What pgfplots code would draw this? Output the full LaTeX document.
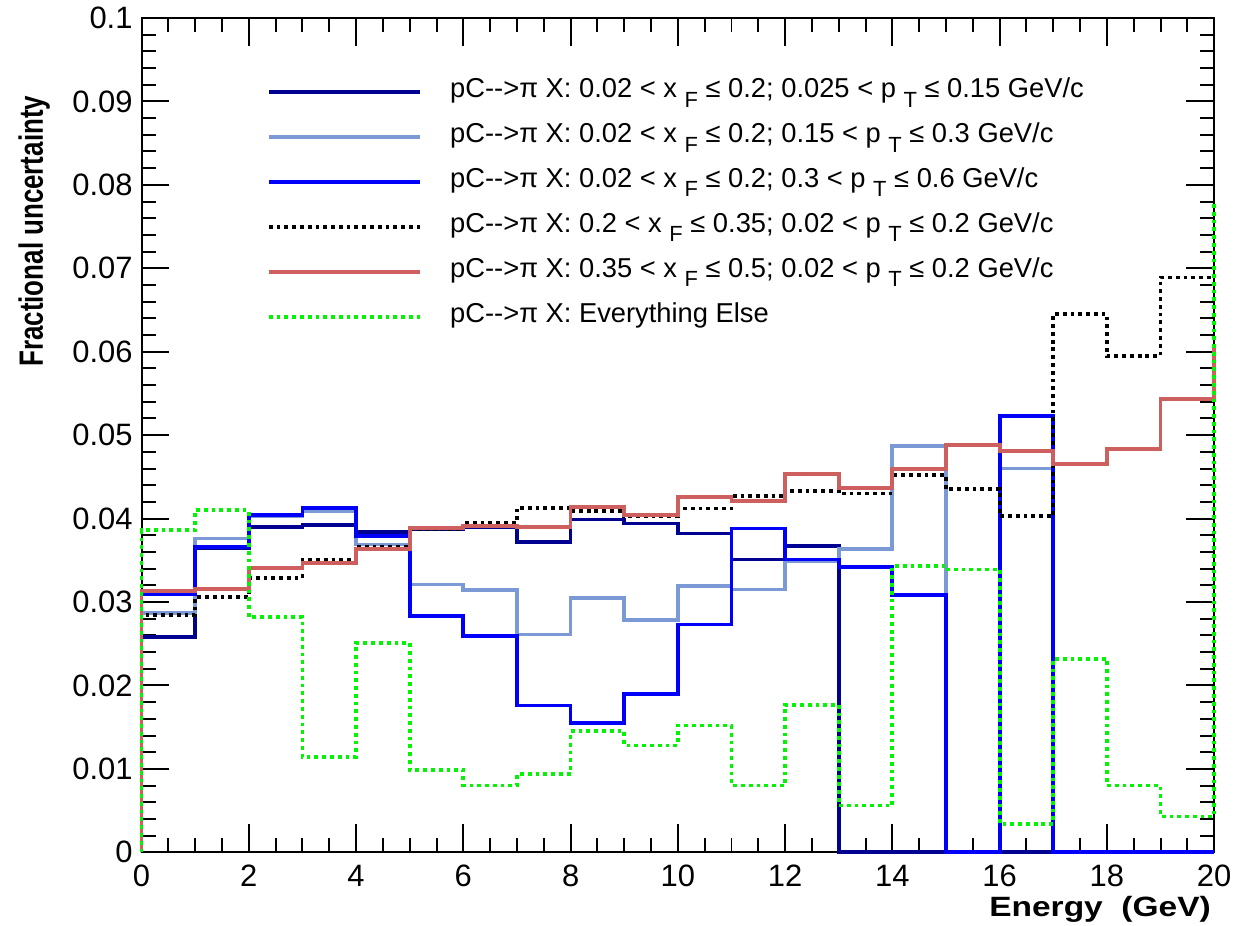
\documentclass[border=0pt]{standalone}
\usepackage{pgfplots}
\pgfplotsset{compat=1.18}
\usepackage{pgfplotstable}
\usetikzlibrary{calc}
\usepackage{fontspec}
\setmainfont{Liberation Sans}
\newfontfamily\widefont[FakeStretch=1.2]{Liberation Sans}
\definecolor{cnavy}{RGB}{0,0,145}
\definecolor{clblue}{RGB}{122,153,213}
\definecolor{cblue}{RGB}{0,0,250}
\definecolor{cred}{RGB}{205,95,95}
\definecolor{cgreen}{RGB}{0,245,0}
\newcommand\sub[1]{\raisebox{-0.65ex}{\fontsize{11pt}{11pt}\selectfont #1}}
\newcommand\pcx{pC-{}->π X:}

% bin left edge, content; first row is the outline start, last row the outline end
\pgfplotstableread{
x     navy    lblue   blue    black   red     green
0     0       0       0       0       0       0
0     0.0258  0.0287  0.0309  0.0284  0.0313  0.0386
1     0.0365  0.0376  0.0366  0.0306  0.0316  0.0410
2     0.0390  0.0403  0.0404  0.0329  0.0341  0.0282
3     0.0392  0.0409  0.0413  0.0350  0.0347  0.0114
4     0.0384  0.0369  0.0379  0.0366  0.0364  0.0251
5     0.0387  0.0321  0.0283  0.0387  0.0389  0.0099
6     0.0390  0.0314  0.0259  0.0395  0.0391  0.0080
7     0.0372  0.0261  0.0176  0.0413  0.0390  0.0094
8     0.0399  0.0305  0.0155  0.0409  0.0414  0.0145
9     0.0394  0.0278  0.0190  0.0403  0.0404  0.0128
10    0.0382  0.0319  0.0273  0.0412  0.0426  0.0152
11    0.0351  0.0315  0.0388  0.0427  0.0421  0.0080
12    0.0367  0.0349  0.0351  0.0433  0.0453  0.0177
13    0       0.0364  0.0342  0.0430  0.0437  0.0056
14    0       0.0487  0.0308  0.0452  0.0459  0.0343
15    0       0       0       0.0435  0.0488  0.0339
16    0       0.0460  0.0523  0.0403  0.0481  0.0034
17    0       0       0       0.0645  0.0465  0.0232
18    0       0       0       0.0595  0.0483  0.0080
19    0       0       0       0.0689  0.0543  0.0043
20    0       0       0       0.0689  0.0607  0.0777
}\datatable

\begin{document}
\begin{tikzpicture}
\begin{axis}[
  scale only axis,
  width=538pt, height=418.5pt,
  xmin=0, xmax=20, ymin=0, ymax=0.1,
  clip=false,
  axis line style={line width=1pt},
  xtick={0,2,...,20},
  ytick={0,0.01,...,0.1},
  yticklabels={0,0.01,0.02,0.03,0.04,0.05,0.06,0.07,0.08,0.09,0.1},
  scaled y ticks=false,
  minor x tick num=3,
  minor y tick num=4,
  tick style={line width=1pt, black},
  major tick length=14pt,
  minor tick length=7pt,
  tick align=inside,
  xtick pos=both, ytick pos=both,
  /pgf/number format/assume math mode=true,
  ticklabel style={font=\fontsize{15.5pt}{15.5pt}\selectfont},
  xticklabel style={yshift=-3pt},
  yticklabel style={xshift=-1pt},
  legend cell align=left,
  legend style={draw=none, fill=none, at={(0.111,0.943)}, anchor=north west,
    font=\fontsize{13.7pt}{13.7pt}\selectfont,
    row sep=0pt, column sep=14pt,
    nodes={inner sep=0pt, text height=14pt, text depth=8.5pt}},
  legend image code/.code={\draw[#1] (0pt,0pt) -- (76pt,0pt);},
  every axis plot/.append style={line width=1.9pt, const plot mark left, no markers},
]
\addplot[cnavy] table[x=x, y=navy] {\datatable};
\addlegendentry{\pcx{} 0.02 < x \sub{F} ≤ 0.2; 0.025 < p \sub{T} ≤ 0.15 GeV/c}
\addplot[clblue] table[x=x, y=lblue] {\datatable};
\addlegendentry{\pcx{} 0.02 < x \sub{F} ≤ 0.2; 0.15 < p \sub{T} ≤ 0.3 GeV/c}
\addplot[cblue] table[x=x, y=blue] {\datatable};
\addlegendentry{\pcx{} 0.02 < x \sub{F} ≤ 0.2; 0.3 < p \sub{T} ≤ 0.6 GeV/c}
\addplot[black, dash pattern=on 1.9pt off 2pt] table[x=x, y=black] {\datatable};
\addlegendentry{\pcx{} 0.2 < x \sub{F} ≤ 0.35; 0.02 < p \sub{T} ≤ 0.2 GeV/c}
\addplot[cred] table[x=x, y=red] {\datatable};
\addlegendentry{\pcx{} 0.35 < x \sub{F} ≤ 0.5; 0.02 < p \sub{T} ≤ 0.2 GeV/c}
\addplot[cgreen, dash pattern=on 1.9pt off 2pt] table[x=x, y=green] {\datatable};
\addlegendentry{\pcx{} Everything Else}
\end{axis}
\node[anchor=south east, inner sep=0pt, font=\widefont\bfseries\fontsize{14pt}{14pt}\selectfont]
  at ($(current axis.south east)+(-1.5pt,-35.5pt)$) {Energy\ \ (GeV)};
\node[anchor=north, rotate=90, inner sep=0pt, font=\bfseries\fontsize{13pt}{13pt}\selectfont]
  at ($(current axis.north west)+(-62pt,-107pt)$) {\scalebox{1}[1.3]{Fractional uncertainty}};
\path ($(current axis.south west)+(-71pt,-36.5pt)$) rectangle ($(current axis.north east)+(10pt,9pt)$);
\end{tikzpicture}
\end{document}
